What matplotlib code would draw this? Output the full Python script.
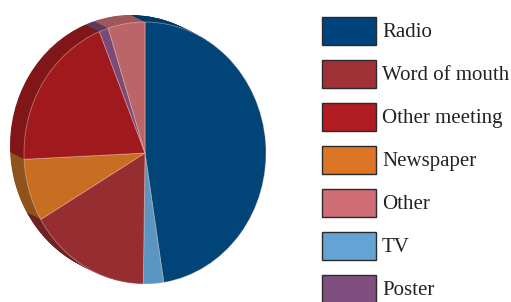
import matplotlib
matplotlib.use("Agg")
import matplotlib.pyplot as plt
from matplotlib.patches import Rectangle
import numpy as np

# ---- data (pie order, clockwise from 12 o'clock) ----
pie_labels = ["Radio", "TV", "Word of mouth", "Newspaper", "Other meeting", "Poster", "Other"]
pie_values = [47.5, 2.7, 16.3, 7.7, 19.6, 1.25, 4.9]
face_colors = ["#004478", "#5B95C2", "#962D31", "#C86E23", "#A01A1D", "#7B4A7A", "#BB6569"]
side_colors = ["#003A68", "#4A7DA5", "#6E2224", "#8E531C", "#801617", "#5C3A5C", "#A0575A"]

# ---- legend ----
legend_labels = ["Radio", "Word of mouth", "Other meeting", "Newspaper", "Other", "TV", "Poster"]
legend_colors = ["#00427C", "#A03237", "#B01C22", "#DC7626", "#CF6D74", "#63A4D5", "#7F507F"]

W, H = 511, 302
fig = plt.figure(figsize=(W / 100, H / 100), dpi=100)

# pie axes: data unit -> rx px horizontally, ry px vertically
cx, cy = 145, 153
rx, ry = 121, 131
ax = fig.add_axes([0, 0, 1, 1])
depth_dx, depth_dy = -14, -7  # pixel offset of the back face
N = 24
for i in range(N, 0, -1):
    t = i / N
    ax.pie(pie_values, colors=side_colors, startangle=90, counterclock=False,
           center=(depth_dx / rx * t, -depth_dy / ry * t),
           wedgeprops=dict(linewidth=0, antialiased=True))
ax.pie(pie_values, colors=face_colors, startangle=90, counterclock=False,
       center=(0, 0),
       wedgeprops=dict(linewidth=0.6, edgecolor=(1, 0.85, 0.8, 0.45)))
ax.set_aspect("auto")
ax.set_xlim(-cx / rx, (W - cx) / rx)
ax.set_ylim(-(H - cy) / ry, cy / ry)
ax.axis("off")

# legend axes in pixel coordinates
lax = fig.add_axes([0, 0, 1, 1])
lax.set_xlim(0, W)
lax.set_ylim(H, 0)
lax.axis("off")
box_x, box_w, box_h = 322, 54, 28.5
top0, step = 16.7, 43.0
for k, (lab, col) in enumerate(zip(legend_labels, legend_colors)):
    y0 = top0 + k * step
    lax.add_patch(Rectangle((box_x, y0), box_w, box_h, facecolor=col,
                            edgecolor="#2a2a2a", linewidth=1.0))
    lax.text(382, y0 + box_h / 2 + 1.5, lab, fontsize=15, family="Liberation Serif",
             color="#222222", va="center", ha="left")

fig.savefig("out.png", dpi=100)
